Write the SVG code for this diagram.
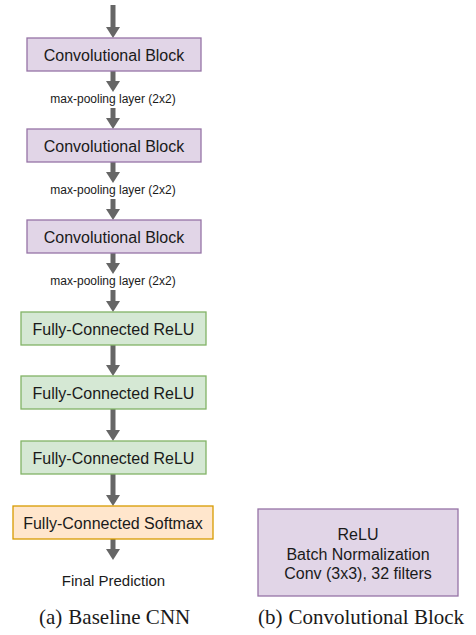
<svg xmlns="http://www.w3.org/2000/svg" width="476" height="635" viewBox="0 0 476 635">
  <style>
    .conv { fill: #e1d5e7; stroke: #9673a6; stroke-width: 1.3; }
    .fc { fill: #d5e8d4; stroke: #82b366; stroke-width: 1.3; }
    .soft { fill: #ffe6cc; stroke: #d79b00; stroke-width: 1.3; }
    .lbl { font-family: "Liberation Sans", Arial, sans-serif; font-size: 16px; fill: #1a1a1a; text-anchor: middle; }
    .small { font-family: "Liberation Sans", Arial, sans-serif; font-size: 12px; fill: #1a1a1a; text-anchor: middle; }
    .out { font-family: "Liberation Sans", Arial, sans-serif; font-size: 15px; fill: #1a1a1a; text-anchor: middle; }
    .cap { font-family: "Liberation Serif", "Times New Roman", serif; font-size: 21px; fill: #1a1a1a; }
    .shaft { stroke: #666666; stroke-width: 5; fill: none; }
    .head { fill: #666666; }
  </style>
  <defs>
    <!-- arrowhead with its tip at the origin, pointing down -->
    <path id="tip" class="head" d="M -7 -11 L 7 -11 L 0 0 Z"/>
  </defs>

  <g id="connectors">
    <line class="shaft" x1="113" y1="5" x2="113" y2="28"/><use href="#tip" x="113" y="38"/>
    <line class="shaft" x1="113" y1="71" x2="113" y2="82"/><use href="#tip" x="113" y="92"/>
    <line class="shaft" x1="113" y1="108" x2="113" y2="119"/><use href="#tip" x="113" y="129"/>
    <line class="shaft" x1="113" y1="162" x2="113" y2="173"/><use href="#tip" x="113" y="183"/>
    <line class="shaft" x1="113" y1="199" x2="113" y2="210"/><use href="#tip" x="113" y="220"/>
    <line class="shaft" x1="113" y1="253" x2="113" y2="264"/><use href="#tip" x="113" y="274"/>
    <line class="shaft" x1="113" y1="290" x2="113" y2="302"/><use href="#tip" x="113" y="312"/>
    <line class="shaft" x1="113" y1="345" x2="113" y2="366"/><use href="#tip" x="113" y="376"/>
    <line class="shaft" x1="113" y1="409" x2="113" y2="431"/><use href="#tip" x="113" y="441"/>
    <line class="shaft" x1="113" y1="474" x2="113" y2="496"/><use href="#tip" x="113" y="506"/>
    <line class="shaft" x1="113" y1="539" x2="113" y2="550"/><use href="#tip" x="113" y="560"/>
  </g>

  <g id="conv1">
    <rect class="conv" x="27" y="38" width="174" height="33"/>
    <text class="lbl" x="114" y="60.5">Convolutional Block</text>
  </g>
  <g id="pool1"><text class="small" x="113" y="102.5">max-pooling layer (2x2)</text></g>

  <g id="conv2">
    <rect class="conv" x="27" y="129" width="174" height="33"/>
    <text class="lbl" x="114" y="151.5">Convolutional Block</text>
  </g>
  <g id="pool2"><text class="small" x="113" y="193.5">max-pooling layer (2x2)</text></g>

  <g id="conv3">
    <rect class="conv" x="27" y="220" width="174" height="33"/>
    <text class="lbl" x="114" y="242.5">Convolutional Block</text>
  </g>
  <g id="pool3"><text class="small" x="113" y="284.5">max-pooling layer (2x2)</text></g>

  <g id="fc1">
    <rect class="fc" x="21" y="312" width="185" height="33"/>
    <text class="lbl" x="113.5" y="334.5">Fully-Connected ReLU</text>
  </g>
  <g id="fc2">
    <rect class="fc" x="21" y="376" width="185" height="33"/>
    <text class="lbl" x="113.5" y="398.5">Fully-Connected ReLU</text>
  </g>
  <g id="fc3">
    <rect class="fc" x="21" y="441" width="185" height="33"/>
    <text class="lbl" x="113.5" y="463.5">Fully-Connected ReLU</text>
  </g>
  <g id="softmax">
    <rect class="soft" x="13" y="506" width="200" height="33"/>
    <text class="lbl" x="113" y="528.5">Fully-Connected Softmax</text>
  </g>
  <g id="prediction"><text class="out" x="113.5" y="585.5">Final Prediction</text></g>

  <g id="conv-block-detail">
    <rect class="conv" x="258" y="509" width="200" height="87"/>
    <text class="lbl" x="358" y="540">ReLU</text>
    <text class="lbl" x="358" y="559.5">Batch Normalization</text>
    <text class="lbl" x="358" y="579">Conv (3x3), 32 filters</text>
  </g>

  <g id="captions">
    <text class="cap" x="39" y="624">(a)<tspan dx="6">Baseline CNN</tspan></text>
    <text class="cap" x="258" y="624">(b)<tspan dx="6">Convolutional Block</tspan></text>
  </g>
</svg>
